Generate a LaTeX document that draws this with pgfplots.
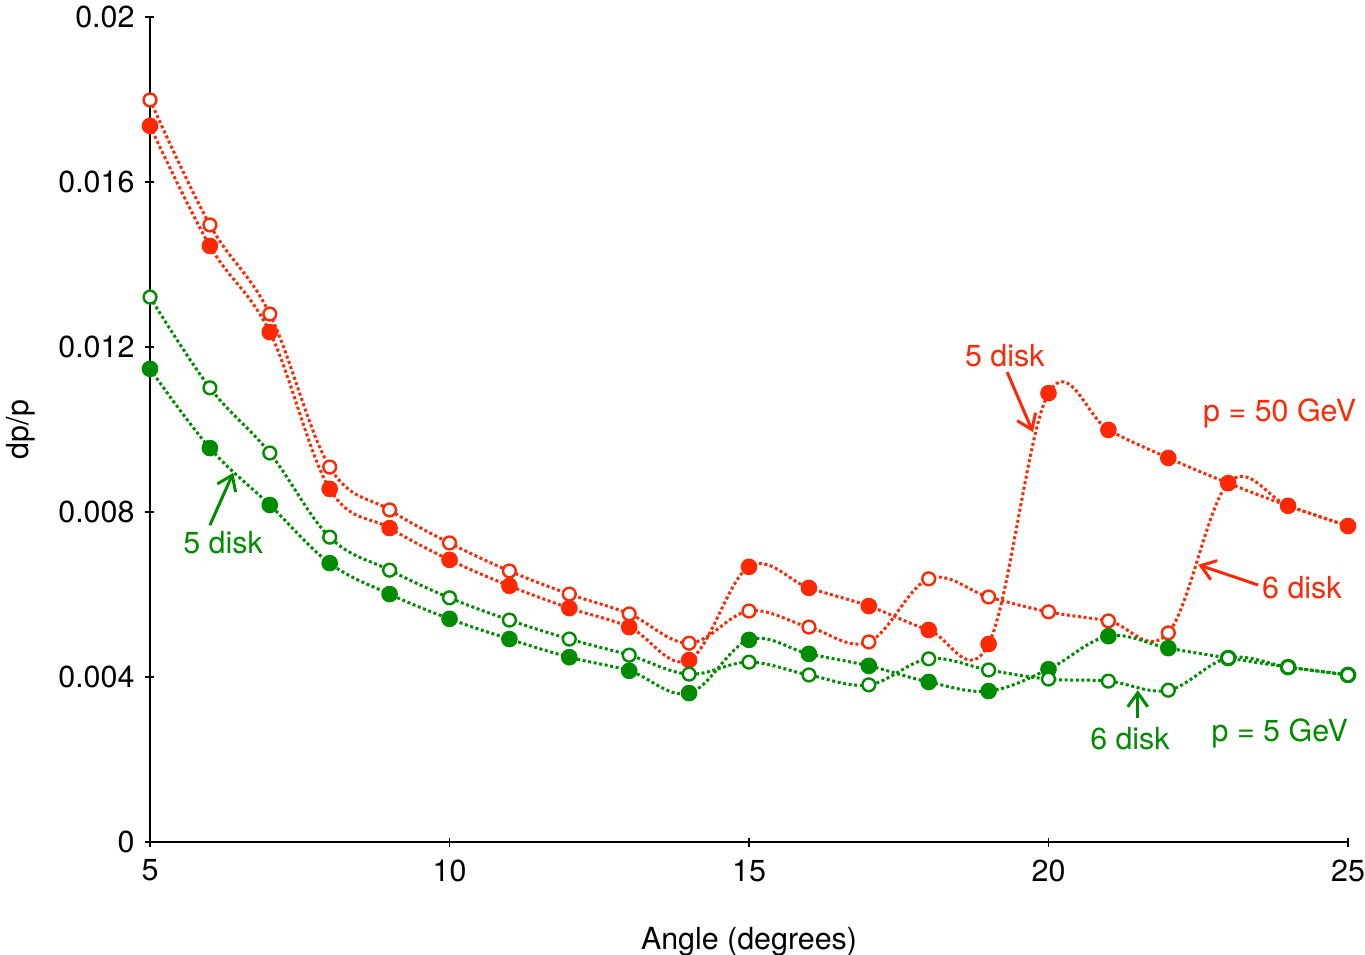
\documentclass[border=0pt]{standalone}
\usepackage{fontspec}
\setmainfont{TeX Gyre Heros}
\usepackage{pgfplots}
\pgfplotsset{compat=1.18}
\usetikzlibrary{arrows.meta}
\definecolor{myred}{RGB}{255,40,5}
\definecolor{mygreen}{RGB}{0,140,0}
\begin{document}
\begin{tikzpicture}
\useasboundingbox (-75pt,-56pt) rectangle (607.5pt,421pt);
\begin{axis}[
  at={(0,0)}, anchor=south west,
  scale only axis, width=599pt, height=412.5pt,
  xmin=5, xmax=25, ymin=0, ymax=0.02,
  axis lines=left, axis line style={-, line width=0.8pt},
  xtick={5,10,15,20,25},
  ytick={0,0.004,0.008,0.012,0.016,0.02},
  yticklabels={0,0.004,0.008,0.012,0.016,0.02},
  scaled y ticks=false,
  tick align=center, major tick length=4.5pt,
  tick style={black, line width=0.8pt},
  /pgf/number format/assume math mode=true,
  tick label style={font=\fontsize{15.2}{18}\selectfont},
  xticklabel style={yshift=-3pt},
  yticklabel style={xshift=-2pt},
  xlabel={Angle (degrees)}, ylabel={dp/p},
  label style={font=\fontsize{15.2}{18}\selectfont},
  xlabel style={at={(axis description cs:0.5,0)}, anchor=north, yshift=-39pt},
  ylabel style={at={(axis description cs:0,0.5)}, anchor=south, xshift=0pt, yshift=54pt},
  clip=false,
  every axis plot/.append style={smooth, tension=0.62, line width=1.5pt, dash pattern=on 1.5pt off 1.3pt},
]
% red open: 6 disk, 50 GeV
\addplot[myred, mark=*, mark size=3.2pt, mark options={solid, fill=white, draw=myred, line width=1.2pt}] coordinates {
(5,0.01799)(6,0.01496)(7,0.0128)(8,0.00909)(9,0.00805)(10,0.00725)(11,0.00657)(12,0.00601)(13,0.00553)(14,0.00482)
(15,0.0056)(16,0.00521)(17,0.00485)(18,0.00638)(19,0.00594)(20,0.00558)(21,0.00536)(22,0.00507)(23,0.0087)(24,0.00815)(25,0.00766)};
% red filled: 5 disk, 50 GeV
\addplot[myred, mark=*, mark size=3.4pt, mark options={solid, fill=myred, draw=myred}] coordinates {
(5,0.01736)(6,0.01445)(7,0.01236)(8,0.00856)(9,0.00761)(10,0.00684)(11,0.00621)(12,0.00567)(13,0.00521)(14,0.00441)
(15,0.00667)(16,0.00616)(17,0.00572)(18,0.00514)(19,0.0048)(20,0.01088)(21,0.00999)(22,0.00931)(23,0.0087)(24,0.00815)(25,0.00766)};
% green filled: 5 disk, 5 GeV
\addplot[mygreen, mark=*, mark size=3.4pt, mark options={solid, fill=mygreen, draw=mygreen}] coordinates {
(5,0.01147)(6,0.00955)(7,0.00817)(8,0.00676)(9,0.00601)(10,0.00541)(11,0.00492)(12,0.00448)(13,0.00415)(14,0.00361)
(15,0.0049)(16,0.00456)(17,0.00427)(18,0.00388)(19,0.00366)(20,0.00419)(21,0.00499)(22,0.0047)(23,0.00446)(24,0.00424)(25,0.00405)};
% green open: 6 disk, 5 GeV
\addplot[mygreen, mark=*, mark size=3.2pt, mark options={solid, fill=white, draw=mygreen, line width=1.2pt}] coordinates {
(5,0.01321)(6,0.01101)(7,0.00943)(8,0.00739)(9,0.00659)(10,0.00592)(11,0.00538)(12,0.00492)(13,0.00453)(14,0.00407)
(15,0.00436)(16,0.00405)(17,0.00381)(18,0.00444)(19,0.00417)(20,0.00395)(21,0.0039)(22,0.00368)(23,0.00446)(24,0.00424)(25,0.00405)};

% annotations
\node[myred, font=\fontsize{15.2}{18}\selectfont] at (axis cs:19.27,0.01178) {5 disk};
\draw[myred, line width=1.5pt, -{Straight Barb[length=7pt,width=10pt]}] (axis cs:19.31,0.01139) -- (axis cs:19.74,0.00994);
\node[myred, font=\fontsize{15.2}{18}\selectfont] at (axis cs:24.23,0.00616) {6 disk};
\draw[myred, line width=1.5pt, -{Straight Barb[length=7pt,width=10pt]}] (axis cs:23.5,0.00623) -- (axis cs:22.5,0.00672);
\node[myred, font=\fontsize{15.2}{18}\selectfont] at (axis cs:23.86,0.0104) {p = 50 GeV};
\node[mygreen, font=\fontsize{15.2}{18}\selectfont] at (axis cs:6.22,0.00725) {5 disk};
\draw[mygreen, line width=1.5pt, -{Straight Barb[length=7pt,width=10pt]}] (axis cs:6.0,0.00768) -- (axis cs:6.39,0.00895);
\node[mygreen, font=\fontsize{15.2}{18}\selectfont] at (axis cs:21.36,0.0025) {6 disk};
\draw[mygreen, line width=1.5pt, -{Straight Barb[length=7pt,width=10pt]}] (axis cs:21.49,0.00301) -- (axis cs:21.49,0.00368);
\node[mygreen, font=\fontsize{15.2}{18}\selectfont] at (axis cs:23.86,0.00262) {p = 5 GeV};
\end{axis}
\end{tikzpicture}
\end{document}
